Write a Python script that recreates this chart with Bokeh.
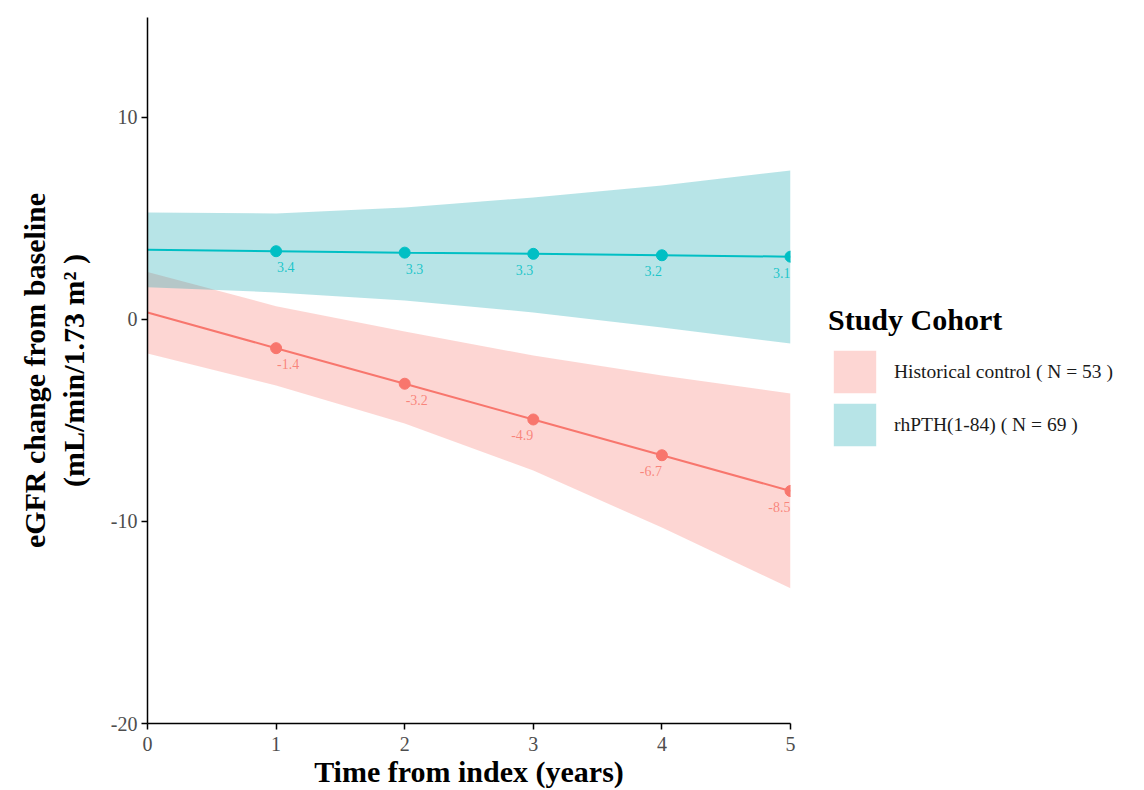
from bokeh.plotting import figure
from bokeh.models import (Legend, LegendItem, FixedTicker, Title, ColumnDataSource,
                          Range1d)
from bokeh.embed import file_html
from bokeh.resources import INLINE

# ---- data ----
years = [0, 1, 2, 3, 4, 5]

ctrl_mean = [0.35, -1.42, -3.18, -4.95, -6.72, -8.49]
ctrl_upper = [2.35, 0.66, -0.60, -1.78, -2.77, -3.66]
ctrl_lower = [-1.68, -3.27, -5.15, -7.48, -10.30, -13.30]
ctrl_labels = ["", "-1.4", "-3.2", "-4.9", "-6.7", "-8.5"]

pth_mean = [3.45, 3.38, 3.31, 3.25, 3.18, 3.11]
pth_upper = [5.30, 5.25, 5.54, 6.04, 6.63, 7.38]
pth_lower = [1.60, 1.34, 0.94, 0.35, -0.40, -1.19]
pth_labels = ["", "3.4", "3.3", "3.3", "3.2", "3.1"]

series_names = ["Historical control ( N = 53 )", "rhPTH(1-84) ( N = 69 )"]
x_ticks = [0, 1, 2, 3, 4, 5]
y_ticks = [-20, -10, 0, 10]
y_tick_labels = ["-20", "-10", "0", "10"]

RED = "#F8766D"
TEAL = "#00BFC4"
TEAL_BAND = "#12a6ae"
SERIF = "Liberation Serif"

p = figure(frame_width=643, frame_height=706,
           x_range=Range1d(0, 5), y_range=Range1d(-20, 14.95),
           output_backend="svg", toolbar_location=None,
           min_border_left=147, min_border_top=17, min_border_bottom=0,
           min_border_right=354, background_fill_color="white",
           border_fill_color="white")
p.outline_line_color = None
p.grid.visible = False

src_c = ColumnDataSource(dict(x=years, m=ctrl_mean, lo=ctrl_lower, hi=ctrl_upper, lab=ctrl_labels))
src_t = ColumnDataSource(dict(x=years, m=pth_mean, lo=pth_lower, hi=pth_upper, lab=pth_labels))

band_c = p.varea(x="x", y1="lo", y2="hi", source=src_c, fill_color=RED, fill_alpha=0.3)
band_t = p.varea(x="x", y1="lo", y2="hi", source=src_t, fill_color=TEAL_BAND, fill_alpha=0.3)

for src, col in ((src_c, RED), (src_t, TEAL)):
    p.line(x="x", y="m", source=src, line_color=col, line_width=2)

def sub(src_data, idx):
    return ColumnDataSource({k: [v[i] for i in idx] for k, v in src_data.items()})

left_idx = [1, 2]
right_idx = [3, 4, 5]
for data, col in ((src_c.data, RED), (src_t.data, TEAL)):
    pts = sub(data, [1, 2, 3, 4, 5])
    p.scatter(x="x", y="m", source=pts, size=11, fill_color=col, line_color=col)
    sl = sub(data, left_idx)
    sr = sub(data, right_idx)
    p.text(x="x", y="m", text="lab", source=sl, text_align="left", text_baseline="top",
           x_offset=1, y_offset=11, text_font_size="14px", text_font={"value": SERIF},
           text_color=col, text_alpha=0.85)
    p.text(x="x", y="m", text="lab", source=sr, text_align="right", text_baseline="top",
           x_offset=0, y_offset=11, text_font_size="14px", text_font={"value": SERIF},
           text_color=col, text_alpha=0.85)

# axes
for ax in (p.xaxis[0], p.yaxis[0]):
    ax.axis_line_color = "black"
    ax.axis_line_width = 1.5
    ax.major_tick_line_color = "black"
    ax.major_tick_line_width = 1.5
    ax.major_tick_out = 6
    ax.major_tick_in = 0
    ax.minor_tick_line_color = None
    ax.major_label_text_font = SERIF
    ax.major_label_text_font_size = "20px"
    ax.major_label_text_color = "#4d4d4d"
    ax.axis_label_text_font = SERIF
    ax.axis_label_text_font_style = "bold"
    ax.axis_label_text_font_size = "30px"
    ax.axis_label_text_color = "black"

p.xaxis.ticker = FixedTicker(ticks=x_ticks)
p.yaxis.ticker = FixedTicker(ticks=y_ticks)
p.yaxis.major_label_overrides = {t: s for t, s in zip(y_ticks, y_tick_labels)}
p.xaxis.major_label_standoff = 7
p.yaxis.major_label_standoff = 4
p.xaxis.axis_label = "Time from index (years)"
p.xaxis.axis_label_standoff = 1
p.yaxis.axis_label = "(mL/min/1.73 m\u00b2 )"
p.yaxis.axis_label_standoff = 18

t1 = Title(text="eGFR change from baseline", align="center", text_font=SERIF,
           text_font_style="bold", text_font_size="30px", text_color="black", standoff=6)
p.add_layout(t1, "left")

legend = Legend(items=[LegendItem(label=series_names[0], renderers=[band_c]),
                       LegendItem(label=series_names[1], renderers=[band_t])],
                location=(38, 272), title="Study Cohort",
                title_text_font=SERIF, title_text_font_style="bold",
                title_text_font_size="30px", title_text_color="black",
                title_standoff=8,
                label_text_font=SERIF, label_text_font_size="19.5px",
                label_text_color="#1a1a1a", label_standoff=13,
                glyph_width=53, glyph_height=53, label_height=53,
                spacing=-9, margin=0, padding=0,
                border_line_color=None, background_fill_alpha=0)
p.add_layout(legend, "right")

open("out.html", "w").write(file_html(p, INLINE))
